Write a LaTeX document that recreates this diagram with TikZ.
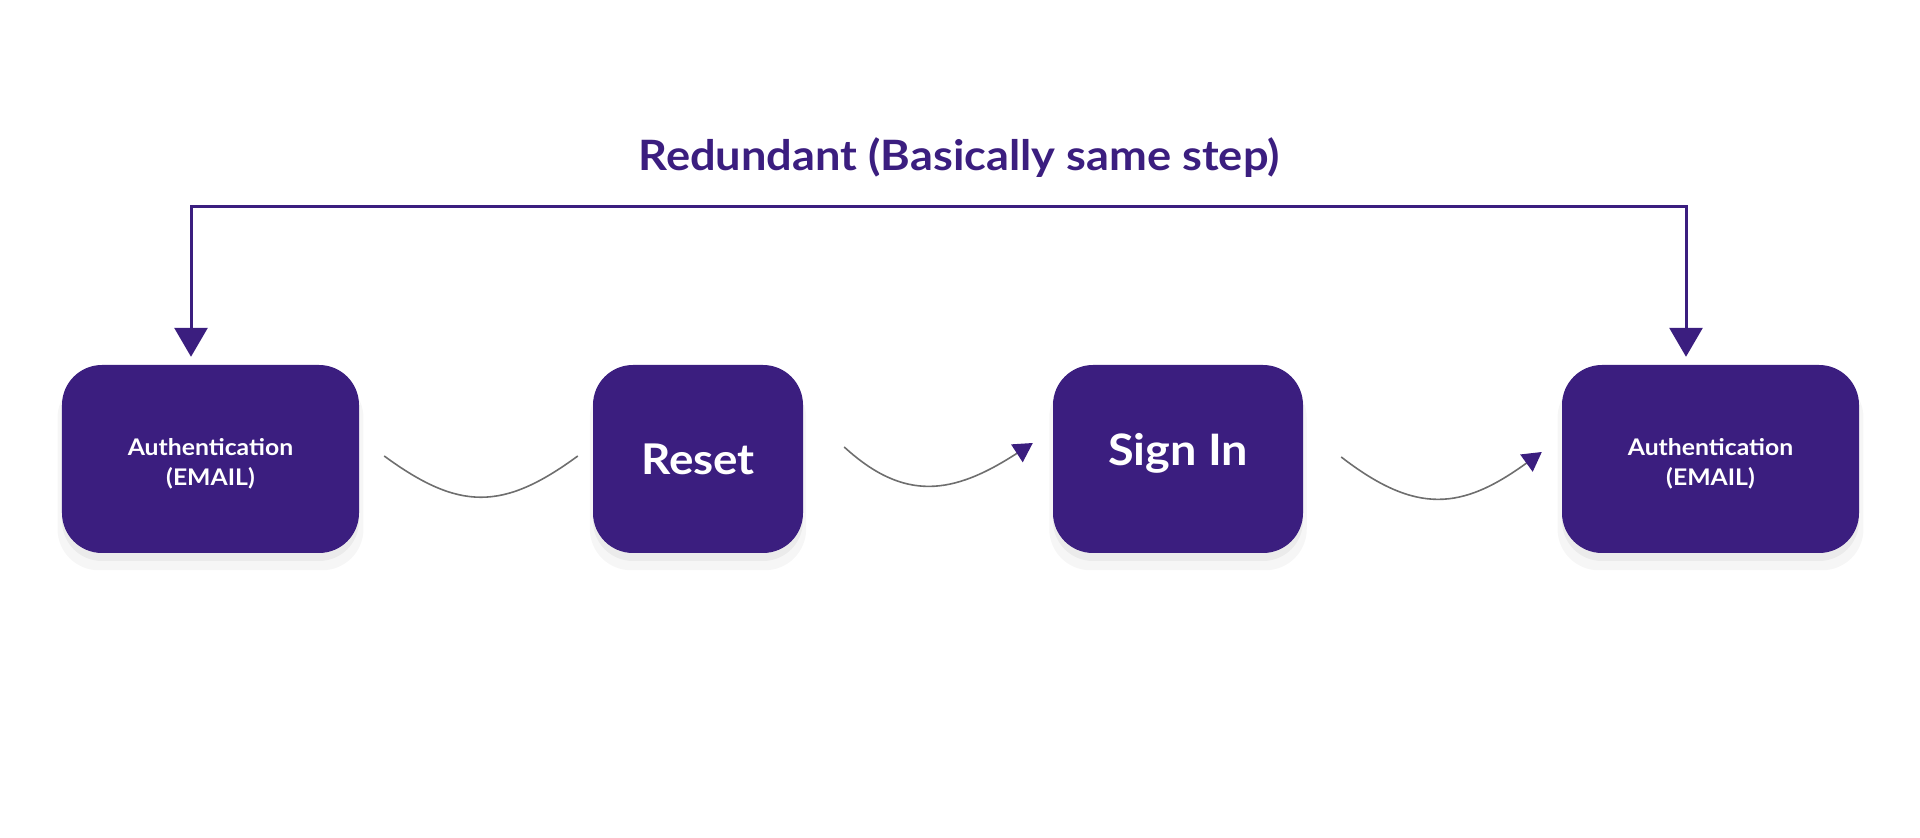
\documentclass[tikz,border=0pt]{standalone}
\usepackage{fontspec}
\setmainfont{Lato}[FakeStretch=1.08]
\usepackage{tikz}
\usetikzlibrary{arrows.meta, shadows, positioning}
\definecolor{flowpurple}{HTML}{3B1E7F}
\definecolor{curvegray}{HTML}{6E6E6E}
\tikzset{>=Stealth}

\begin{document}
\begin{tikzpicture}[x=1bp, y=1bp,
    stepbox/.style={fill=flowpurple, rounded corners=40bp, minimum height=188bp,
        text=white, font=\bfseries, align=center,
        general shadow={shadow yshift=-14bp, shadow scale=1.03, opacity=0.035, fill=black},
        general shadow={shadow yshift=-8bp, opacity=0.045, fill=black}},
    flowcurve/.style={draw=curvegray, line width=1.6bp},
    loopline/.style={draw=flowpurple, line width=3bp,
        {Triangle[length=29bp, width=33bp, color=flowpurple]}-{Triangle[length=29bp, width=33bp, color=flowpurple]}},
    curvetip/.style={-{Triangle[length=19bp, width=21bp, color=flowpurple]}}]
    \useasboundingbox (0,0) rectangle (1920,838);
    \node[stepbox, minimum width=297bp, text height=56bp, font=\fontsize{23}{30}\selectfont\bfseries] (auth1) at (210.5,379) {Authentication\\(EMAIL)};
    \node[stepbox, minimum width=210bp, font=\fontsize{42.5}{50}\selectfont\bfseries] (reset) at (698,379) {Reset};
    \node[stepbox, minimum width=250bp, text depth=19bp, font=\fontsize{43.5}{50}\selectfont\bfseries] (signin) at (1178,379) {Sign In};
    \node[stepbox, minimum width=297bp, text height=56bp, font=\fontsize{23}{30}\selectfont\bfseries] (auth2) at (1710.5,379) {Authentication\\(EMAIL)};
    \node[text=flowpurple, font=\fontsize{42}{50}\selectfont\bfseries] (title) at (959,680) {Redundant (Basically same step)};
    \draw[loopline] ([xshift=-19.5bp,yshift=8bp]auth1.north) -- ++(0,150) -| ([xshift=-24.5bp,yshift=8bp]auth2.north);
    \draw[flowcurve] ([xshift=25bp,yshift=3bp]auth1.east) .. controls +(75,-55) and +(-75,-55) .. ([xshift=-15bp,yshift=3bp]reset.west);
    \draw[flowcurve, curvetip] ([xshift=41bp,yshift=12bp]reset.east) .. controls +(60,-55) and +(-80,-52) .. ([xshift=-20bp,yshift=16bp]signin.west);
    \draw[flowcurve, curvetip] ([xshift=38bp,yshift=2bp]signin.east) .. controls +(75,-58) and +(-80,-58) .. ([xshift=-20bp,yshift=7bp]auth2.west);
\end{tikzpicture}
\end{document}
